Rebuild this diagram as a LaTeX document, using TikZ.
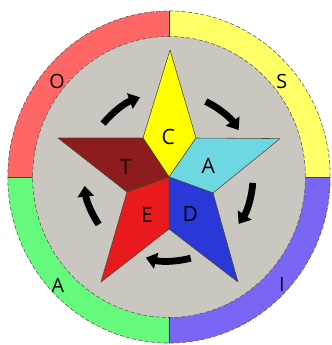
\documentclass[tikz,border=0pt]{standalone}
\usepackage{fontspec}
\setmainfont{Open Sans}
\usepackage{xcolor}
\usepackage{tikz}
\usetikzlibrary{arrows.meta}

\definecolor{ringred}{HTML}{FF6666}
\definecolor{ringyel}{HTML}{FFFF66}
\definecolor{ringpur}{HTML}{7A66F5}
\definecolor{ringgrn}{HTML}{66FA7C}
\definecolor{disc}{HTML}{C9C7BF}
\definecolor{ptyel}{HTML}{FFFF00}
\definecolor{ptcyan}{HTML}{6ED8E2}
\definecolor{ptblue}{HTML}{2A38D8}
\definecolor{ptred}{HTML}{E81A1E}
\definecolor{ptdark}{HTML}{8C1C1E}

\begin{document}
\begin{tikzpicture}[font=\large,
  rim/.style={draw=black!65, dashed, dash pattern=on 3pt off 1.5pt, thin},
  sep/.style={draw=black!75, semithick},
  pt/.style={draw=black!60!olive, thin, line join=round},
  lbl/.style={inner sep=0pt, font=\fontsize{15}{15}\selectfont},
  rlbl/.style={inner sep=0pt, font=\fontsize{14}{14}\selectfont},
  arr/.style={-{Triangle[width=4mm, length=2.7mm]}, line width=1.7mm}]
\useasboundingbox (-4.225,-4.2) rectangle (4.05,4.425);
% --- outer ring ---
\begin{scope}[yscale=1.03]
\fill[ringyel] (0,0) -- (0:4.03) arc[start angle=0, end angle=90, radius=4.03] -- cycle;
\fill[ringred] (0,0) -- (90:4.03) arc[start angle=90, end angle=180, radius=4.03] -- cycle;
\fill[ringgrn] (0,0) -- (180:4.03) arc[start angle=180, end angle=270, radius=4.03] -- cycle;
\fill[ringpur] (0,0) -- (270:4.03) arc[start angle=270, end angle=360, radius=4.03] -- cycle;
\draw[rim] (0,0) circle[radius=4.03];
\draw[sep] (90:3.41) -- (90:4.03);
\draw[sep] (180:3.41) -- (180:4.03);
\draw[sep] (270:3.41) -- (270:4.03);
\draw[sep] (0:3.41) -- (0:4.03);
\fill[disc] (0,0) circle[radius=3.41];
\draw[rim] (0,0) circle[radius=3.41];
\end{scope}
\node[rlbl] (o) at (-2.8,2.4) {O};
\node[rlbl] (s) at (2.82,2.4) {S};
\node[rlbl] (a2) at (-2.78,-2.7) {A};
\node[rlbl] (i) at (2.82,-2.68) {I};
% --- star ---
\coordinate (c0) at (0,0);
\coordinate (p1) at (0.025,3.175);
\coordinate (p2) at (2.775,0.96);
\coordinate (p3) at (1.725,-2.625);
\coordinate (p4) at (-1.7,-2.625);
\coordinate (p5) at (-2.775,0.975);
\coordinate (q1) at (0.675,0.975);
\coordinate (q2) at (1.1,-0.4);
\coordinate (q3) at (0,-1.3);
\coordinate (q4) at (-1.05,-0.375);
\coordinate (q5) at (-0.65,0.975);
\filldraw[pt, fill=ptyel] (c0) -- (q5) -- (p1) -- (q1) -- cycle;
\filldraw[pt, fill=ptcyan] (c0) -- (q1) -- (p2) -- (q2) -- cycle;
\filldraw[pt, fill=ptblue] (c0) -- (q2) -- (p3) -- (q3) -- cycle;
\filldraw[pt, fill=ptred] (c0) -- (q3) -- (p4) -- (q4) -- cycle;
\filldraw[pt, fill=ptdark] (c0) -- (q4) -- (p5) -- (q5) -- cycle;
\node[lbl] (c) at (-0.02,1.0) {C};
\node[lbl] (a) at (0.98,0.28) {A};
\node[lbl] (d) at (0.53,-0.92) {D};
\node[lbl] (e) at (-0.55,-0.95) {E};
\node[lbl] (t) at (-1.08,0.25) {T};
% --- cycle arrows ---
\draw[arr] (64:2.1) arc[start angle=64, end angle=34, radius=2.1];
\draw[arr] (-4:2.1) arc[start angle=-4, end angle=-34, radius=2.1];
\draw[arr] (-75:2.1) arc[start angle=-75, end angle=-106, radius=2.1];
\draw[arr] (-146:2.12) arc[start angle=-146, end angle=-174, radius=2.12];
\draw[arr] (141:2.12) arc[start angle=141, end angle=110, radius=2.12];
\end{tikzpicture}
\end{document}
